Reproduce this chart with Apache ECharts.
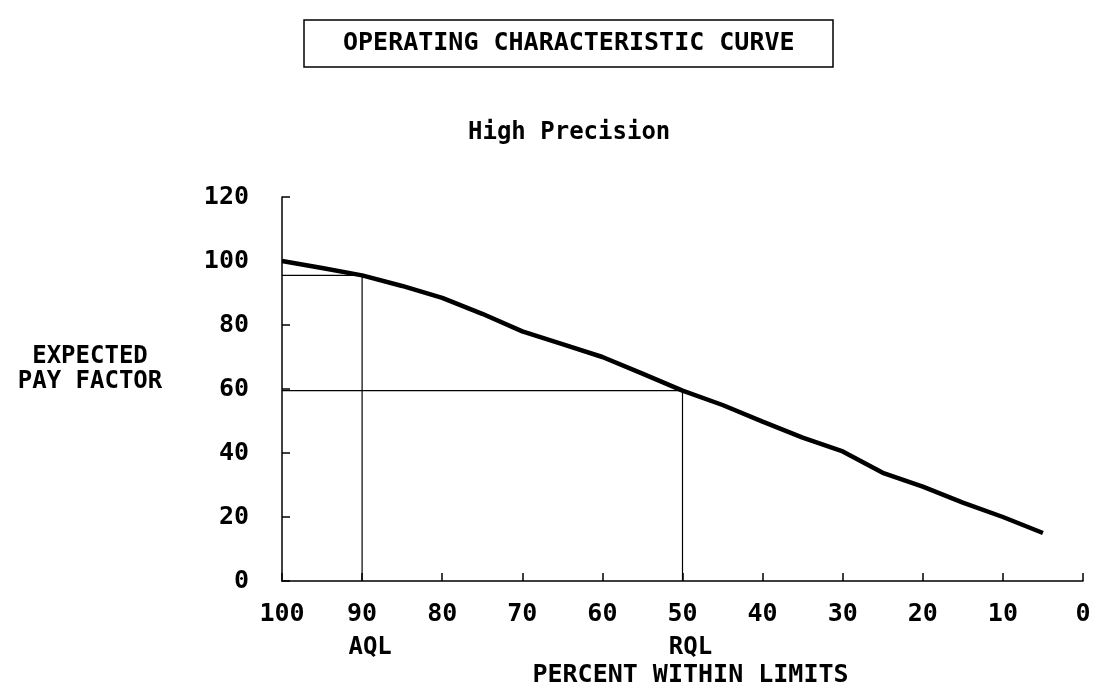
<!DOCTYPE html>
<html>
<head>
<meta charset="utf-8">
<script src="https://cdn.jsdelivr.net/npm/echarts@6/dist/echarts.min.js"></script>
<style>
html,body{margin:0;padding:0;background:#fff;}
#chart{width:1105px;height:694px;}
</style>
</head>
<body>
<div id="chart"></div>
<script>
// ---- data ----
const percentWithin = [100, 95, 90, 85, 80, 75, 70, 65, 60, 55, 50, 45, 40, 35, 30, 25, 20, 15, 10, 5];
const payFactor     = [100, 97.8, 95.5, 92.2, 88.5, 83.5, 78, 74, 70, 64.8, 59.5, 55, 49.8, 44.8, 40.5, 33.8, 29.5, 24.5, 20, 15];
const aql = 90, aqlPay = 95.5;
const rql = 50, rqlPay = 59.5;
const xTicks = [100, 90, 80, 70, 60, 50, 40, 30, 20, 10, 0];
const yTicks = [0, 20, 40, 60, 80, 100, 120];
const qualityLabels = { 90: 'AQL', 50: 'RQL' };

const FONT = 'DejaVu Sans Mono';
const curve = percentWithin.map((x, i) => [x, payFactor[i]]);

const chart = echarts.init(document.getElementById('chart'), null, { renderer: 'canvas' });
chart.setOption({
  animation: false,
  backgroundColor: '#fff',
  title: [
    {
      text: 'OPERATING CHARACTERISTIC CURVE',
      left: 304, top: 20,
      borderColor: '#000', borderWidth: 1.5,
      padding: [11, 39, 11, 39],
      textStyle: { fontFamily: FONT, fontWeight: 'bold', fontSize: 25, color: '#000', lineHeight: 25 }
    },
    {
      text: 'High Precision',
      left: 468, top: 121,
      padding: 0,
      textStyle: { fontFamily: FONT, fontWeight: 'bold', fontSize: 24, color: '#000' }
    }
  ],
  graphic: [
    {
      type: 'text', left: 90 - 80, top: 344,
      style: {
        text: 'EXPECTED\nPAY FACTOR',
        fontFamily: FONT, fontWeight: 'bold', fontSize: 24, lineHeight: 25,
        fill: '#000', textAlign: 'center', width: 160
      }
    }
  ],
  grid: { left: 282, right: 22, top: 197, bottom: 113 },
  xAxis: [
    {
      type: 'value', min: 0, max: 100, interval: 10, inverse: true,
      axisLine: { onZero: false, lineStyle: { color: '#000', width: 1.5 } },
      axisTick: { inside: true, length: 8, lineStyle: { color: '#000', width: 1.5 } },
      splitLine: { show: false },
      axisLabel: { color: '#000', fontFamily: FONT, fontWeight: 'bold', fontSize: 25, margin: 21,
                   formatter: v => xTicks.includes(v) ? String(v) : '' },
      name: 'PERCENT WITHIN LIMITS', nameLocation: 'middle', nameGap: 82,
      nameTextStyle: { color: '#000', fontFamily: FONT, fontWeight: 'bold', fontSize: 25, padding: [0, 0, 0, 16] }
    },
    {
      type: 'value', min: 0, max: 100, interval: 10, inverse: true,
      position: 'bottom', offset: 55,
      axisLine: { show: false }, axisTick: { show: false }, splitLine: { show: false },
      axisLabel: { color: '#000', fontFamily: FONT, fontWeight: 'bold', fontSize: 24, margin: 0,
                   padding: [0, 0, 0, 16],
                   formatter: v => qualityLabels[v] || '' }
    }
  ],
  yAxis: {
    type: 'value', min: 0, max: 120, interval: 20,
    axisLine: { show: true, onZero: false, lineStyle: { color: '#000', width: 1.5 } },
    axisTick: { show: true, inside: true, length: 8, lineStyle: { color: '#000', width: 1.5 } },
    splitLine: { show: false },
    axisLabel: { color: '#000', fontFamily: FONT, fontWeight: 'bold', fontSize: 25, margin: 33,
                 formatter: v => yTicks.includes(v) ? String(v) : '' }
  },
  series: [
    {
      type: 'line', xAxisIndex: 0, data: [[aql, 0], [aql, aqlPay], [100, aqlPay]],
      symbol: 'none', lineStyle: { color: '#000', width: 1.2 }, silent: true
    },
    {
      type: 'line', xAxisIndex: 0, data: [[rql, 0], [rql, rqlPay], [100, rqlPay]],
      symbol: 'none', lineStyle: { color: '#000', width: 1.2 }, silent: true
    },
    {
      type: 'line', xAxisIndex: 0, data: curve,
      symbol: 'none', lineStyle: { color: '#000', width: 4.5 }, silent: true
    }
  ]
});
</script>
</body>
</html>
